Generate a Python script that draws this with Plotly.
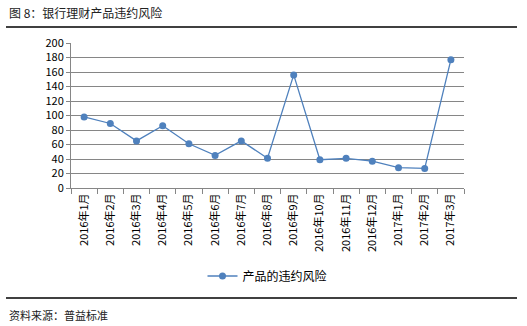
import plotly.graph_objects as go

months = ["2016年1月", "2016年2月", "2016年3月", "2016年4月", "2016年5月", "2016年6月",
          "2016年7月", "2016年8月", "2016年9月", "2016年10月", "2016年11月", "2016年12月",
          "2017年1月", "2017年2月", "2017年3月"]
default_risk = [98, 89, 65, 86, 61, 45, 65, 41, 156, 39, 41, 37, 28, 27, 177]
series_name = "产品的违约风险"
y_ticks = list(range(0, 201, 20))

W, H = 527, 326
left, right, top, bottom = 71, 63, 43, 138
plot_w = W - left - right
plot_h = H - top - bottom


def px_x(x):
    return (x - left) / plot_w


def px_y(y):
    return (H - bottom - y) / plot_h


FONT = "Noto Sans CJK SC, Microsoft YaHei, sans-serif"
BLUE = "#4F81BD"

fig = go.Figure()
fig.add_trace(go.Scatter(
    x=months, y=default_risk, name=series_name, mode="lines+markers",
    line=dict(color=BLUE, width=1.3),
    marker=dict(color=BLUE, size=7),
))

fig.update_layout(
    width=W, height=H,
    margin=dict(l=left, r=right, t=top, b=bottom, pad=0),
    paper_bgcolor="white", plot_bgcolor="white",
    font=dict(family=FONT, size=11, color="#000000"),
    showlegend=True,
    legend=dict(orientation="h", x=0.5, xanchor="center", y=px_y(276), yanchor="middle",
                font=dict(size=12, color="#000"), itemwidth=30,
                bgcolor="rgba(0,0,0,0)"),
    xaxis=dict(
        type="category", tickangle=-90, showgrid=False,
        showline=True, linecolor="#868686", linewidth=1,
        ticks="outside", ticklen=5, tickcolor="#868686", tickson="boundaries",
        tickfont=dict(size=11, color="#000"), range=[-0.5, len(months) - 0.5],
    ),
    yaxis=dict(
        range=[0, 200], tickvals=y_ticks, showgrid=True, gridcolor="#868686", gridwidth=1,
        showline=True, linecolor="#868686", linewidth=1,
        ticks="outside", ticklen=4, tickcolor="#868686",
        tickfont=dict(size=11, color="#000"), zeroline=False,
    ),
    shapes=[
        dict(type="line", xref="paper", yref="paper", x0=px_x(6), x1=px_x(517),
             y0=px_y(27), y1=px_y(27), line=dict(color="#000", width=1.5)),
        dict(type="line", xref="paper", yref="paper", x0=px_x(6), x1=px_x(517),
             y0=px_y(298), y1=px_y(298), line=dict(color="#000", width=1.5)),
    ],
    annotations=[
        dict(text="图 8：银行理财产品违约风险", xref="paper", yref="paper",
             x=px_x(7), y=px_y(12), xanchor="left", yanchor="middle", showarrow=False,
             font=dict(size=12, color="#222")),
        dict(text="资料来源：普益标准", xref="paper", yref="paper",
             x=px_x(7), y=px_y(315), xanchor="left", yanchor="middle", showarrow=False,
             font=dict(size=11, color="#222")),
    ],
)

fig.write_html("out.html")
